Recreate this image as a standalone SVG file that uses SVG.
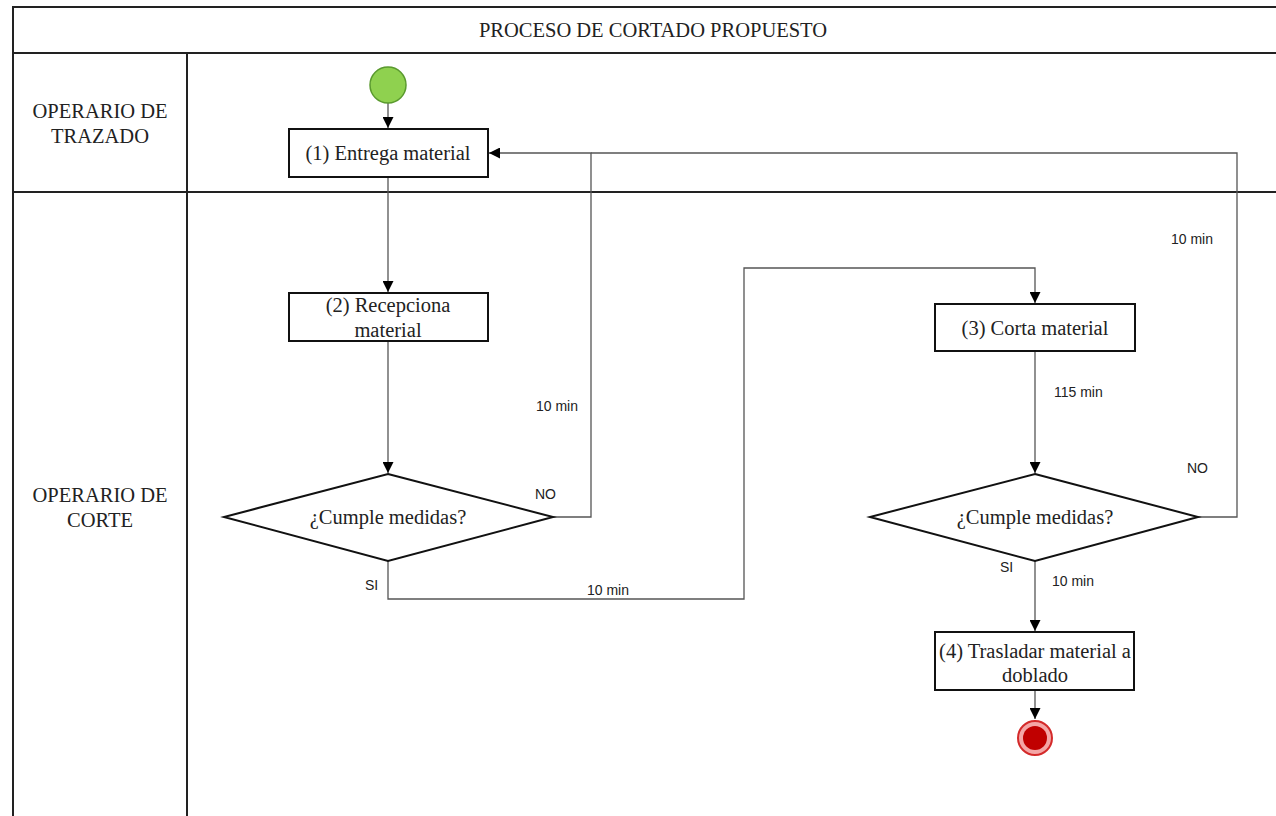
<svg xmlns="http://www.w3.org/2000/svg" width="1276" height="816" viewBox="0 0 1276 816">
  <style>
    .lane { stroke: #222; stroke-width: 2; fill: none; }
    .box { fill: #fff; stroke: #111; stroke-width: 2; }
    .conn { fill: none; stroke: #555; stroke-width: 1.3; }
    .t { font-size: 20.5px; text-anchor: middle; fill: #222; }
    .title { font-size: 20.5px; text-anchor: middle; fill: #222; }
    .lbl { font-size: 14px; fill: #222; }
  </style>
  <defs>
    <marker id="arr" viewBox="0 0 10 10" refX="10" refY="5" markerWidth="11" markerHeight="11" markerUnits="userSpaceOnUse" orient="auto">
      <path d="M0,0 L10,5 L0,10 Z" fill="#000"/>
    </marker>
  </defs>
  <rect width="1276" height="816" fill="#fff"/>

  <!-- swimlane frame -->
  <g id="frame" font-family="'Liberation Serif', 'DejaVu Serif', serif">
    <path class="lane" d="M13,816 V7 H1276 M13,53 H1276 M13,192 H1276 M187,53 V816"/>
    <text class="title" x="653" y="37">PROCESO DE CORTADO PROPUESTO</text>
    <text class="title" x="100" y="118">OPERARIO DE</text>
    <text class="title" x="100" y="143">TRAZADO</text>
    <text class="title" x="100" y="502">OPERARIO DE</text>
    <text class="title" x="100" y="527">CORTE</text>
  </g>

  <!-- connectors -->
  <g id="connectors" font-family="'Liberation Sans', Arial, sans-serif">
    <path class="conn" d="M388,103 V128" marker-end="url(#arr)"/>
    <path class="conn" d="M388,177 V292" marker-end="url(#arr)"/>
    <path class="conn" d="M388,341 V473" marker-end="url(#arr)"/>
    <path class="conn" d="M553,517 H591 V153 H489" marker-end="url(#arr)"/>
    <path class="conn" d="M388,561 V599 H744 V268 H1035 V303" marker-end="url(#arr)"/>
    <path class="conn" d="M1035,351 V473" marker-end="url(#arr)"/>
    <path class="conn" d="M1198,517 H1237 V153 H591"/>
    <path class="conn" d="M1035,561 V631" marker-end="url(#arr)"/>
    <path class="conn" d="M1035,690 V719" marker-end="url(#arr)"/>
    <text class="lbl" x="535" y="499">NO</text>
    <text class="lbl" x="536" y="411">10 min</text>
    <text class="lbl" x="365" y="590">SI</text>
    <text class="lbl" x="587" y="595">10 min</text>
    <text class="lbl" x="1054" y="397">115 min</text>
    <text class="lbl" x="1187" y="473">NO</text>
    <text class="lbl" x="1171" y="244">10 min</text>
    <text class="lbl" x="1000" y="572">SI</text>
    <text class="lbl" x="1052" y="586">10 min</text>
  </g>

  <g id="start">
    <circle cx="388" cy="85" r="18" fill="#8fd14f" stroke="#5a9a2e" stroke-width="1.5"/>
  </g>

  <g id="nodes" font-family="'Liberation Serif', 'DejaVu Serif', serif">
    <g id="n1">
      <rect class="box" x="289" y="129" width="199" height="48"/>
      <text class="t" x="388" y="160">(1) Entrega material</text>
    </g>

    <g id="n2">
      <rect class="box" x="289" y="293" width="199" height="48"/>
      <text class="t" x="388" y="312">(2) Recepciona</text>
      <text class="t" x="388" y="337">material</text>
    </g>

    <g id="d1">
      <polygon class="box" points="388,474 553,517 388,561 224,517"/>
      <text class="t" x="388" y="524">¿Cumple medidas?</text>
    </g>

    <g id="n3">
      <rect class="box" x="935" y="304" width="200" height="47"/>
      <text class="t" x="1035" y="335">(3) Corta material</text>
    </g>

    <g id="d2">
      <polygon class="box" points="1035,474 1198,517 1035,561 870,517"/>
      <text class="t" x="1035" y="524">¿Cumple medidas?</text>
    </g>

    <g id="n4">
      <rect class="box" x="935" y="632" width="199" height="58"/>
      <text class="t" x="1035" y="658">(4) Trasladar material a</text>
      <text class="t" x="1035" y="682">doblado</text>
    </g>
  </g>

  <g id="end">
    <circle cx="1035" cy="738" r="17" fill="#f4a6a6" stroke="#d42a2a" stroke-width="2"/>
    <circle cx="1035" cy="738" r="12" fill="#c00000"/>
  </g>
</svg>
